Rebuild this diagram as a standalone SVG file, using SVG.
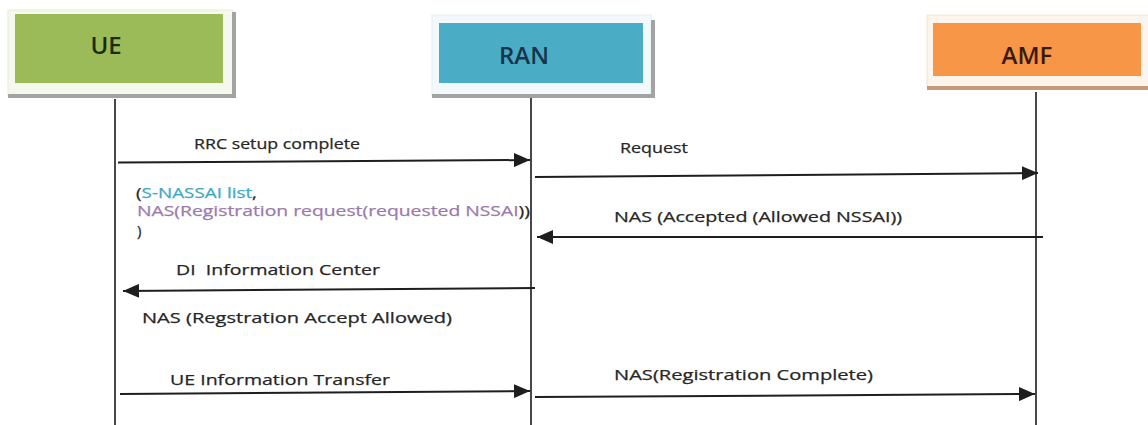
<svg xmlns="http://www.w3.org/2000/svg" width="1148" height="425" viewBox="0 0 1148 425">
<style>
.lbl{font-family:"Open Sans","Noto Sans",sans-serif;font-size:15px;fill:#262626;stroke:#262626;stroke-width:0.25}
.title{font-family:"Open Sans","Noto Sans",sans-serif;font-size:24px;font-weight:600}
.life{stroke:#333;stroke-width:1.8;fill:none}
.msg{stroke:#1e1e1e;stroke-width:2;fill:none;marker-end:url(#ah)}
.shadow{fill:#a3a3a3}
.teal{fill:#3ea8c4;stroke:#3ea8c4}
.purple{fill:#9a7aae;stroke:#9a7aae}
</style>
<defs>
<marker id="ah" markerUnits="userSpaceOnUse" markerWidth="17" markerHeight="14" refX="16" refY="7" orient="auto">
<path d="M0,0 L16,7 L0,14 z" fill="#1e1e1e"/>
</marker>
</defs>
<rect width="1148" height="425" fill="#ffffff"/>

<g id="UE">
<rect x="8" y="10" width="225" height="85" fill="#f5f8ee" stroke="#e6ebdc" stroke-width="1"/>
<rect x="232" y="12" width="4" height="86" class="shadow"/>
<rect x="8" y="94" width="228" height="4" class="shadow"/>
<rect x="15" y="14" width="208" height="69" fill="#9bbb59"/>
<text x="106" y="54" text-anchor="middle" class="title" fill="#1c2a10">UE</text>
</g>

<g id="RAN">
<rect x="432" y="15" width="219" height="80" fill="#f3f9fb" stroke="#e2eef2" stroke-width="1"/>
<rect x="651" y="20" width="4" height="78" class="shadow"/>
<rect x="432" y="94" width="223" height="4" class="shadow"/>
<rect x="439" y="23" width="204" height="60" fill="#4bacc6"/>
<text x="524" y="64" text-anchor="middle" class="title" font-size="26" fill="#17364a">RAN</text>
</g>

<g id="AMF">
<rect x="927" y="15" width="225" height="72" fill="#fdf4ec" stroke="#f2e4d6" stroke-width="1"/>
<rect x="927" y="86" width="221" height="4" fill="#c49a78"/>
<rect x="933" y="23" width="208" height="53" fill="#f79646"/>
<text x="1027" y="64" text-anchor="middle" class="title" fill="#3a1a0c">AMF</text>
</g>

<g id="lifelines">
<line x1="115" y1="99" x2="115" y2="425" class="life"/>
<line x1="531" y1="98" x2="531" y2="425" class="life"/>
<line x1="1036" y1="92" x2="1036" y2="425" class="life"/>
</g>

<g id="connectors">
<line x1="118" y1="162.5" x2="530" y2="160" class="msg"/>
<line x1="535" y1="177" x2="1038" y2="173" class="msg"/>
<line x1="1043" y1="237" x2="537" y2="237" class="msg"/>
<line x1="535" y1="288" x2="123" y2="291" class="msg"/>
<line x1="120" y1="394" x2="530" y2="391" class="msg"/>
<line x1="535" y1="397" x2="1035" y2="394" class="msg"/>
</g>

<g id="labels">
<text x="194" y="149" class="lbl" textLength="166" lengthAdjust="spacingAndGlyphs">RRC setup complete</text>
<text x="620" y="153" class="lbl" textLength="68" lengthAdjust="spacingAndGlyphs">Request</text>
<text x="614" y="222" class="lbl" textLength="288" lengthAdjust="spacingAndGlyphs">NAS (Accepted (Allowed NSSAI))</text>
<text x="136" y="198" class="lbl" textLength="121" lengthAdjust="spacingAndGlyphs">(<tspan class="teal">S-NASSAI list</tspan>,</text>
<text x="137" y="216" class="lbl" textLength="393" lengthAdjust="spacingAndGlyphs"><tspan class="purple">NAS(Registration request(requested NSSAI</tspan>))</text>
<text x="137" y="236" class="lbl">)</text>
<text x="176" y="275" class="lbl" style="white-space:pre" textLength="204" lengthAdjust="spacingAndGlyphs">DI  Information Center</text>
<text x="142" y="323" class="lbl" textLength="310" lengthAdjust="spacingAndGlyphs">NAS (Regstration Accept Allowed)</text>
<text x="170" y="385" class="lbl" textLength="220" lengthAdjust="spacingAndGlyphs">UE Information Transfer</text>
<text x="614" y="380" class="lbl" textLength="259" lengthAdjust="spacingAndGlyphs">NAS(Registration Complete)</text>
</g>
</svg>
